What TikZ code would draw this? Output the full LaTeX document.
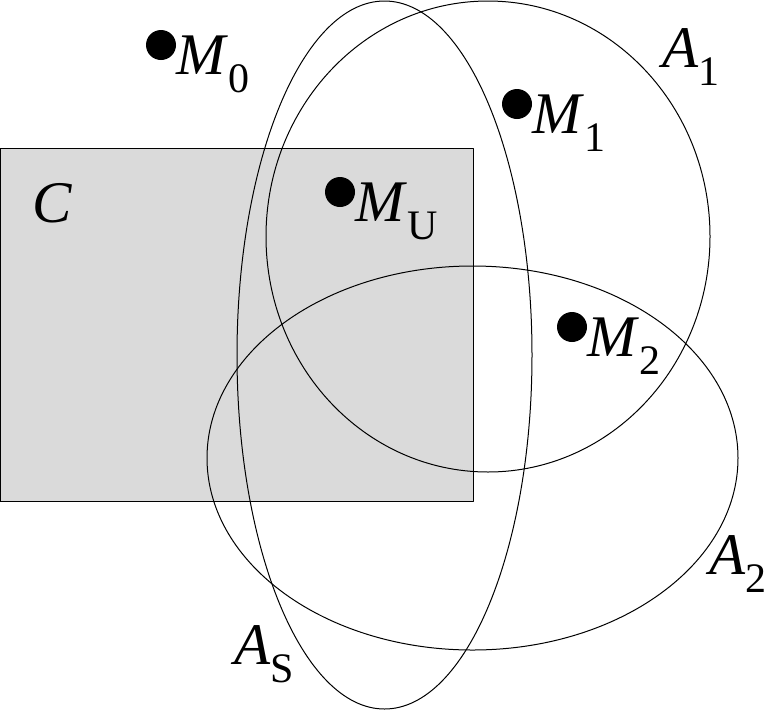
\documentclass[tikz,border=0pt]{standalone}
\usepackage{fontspec}
\setmainfont{Liberation Serif}
\definecolor{xamnhat}{RGB}{218,218,218}
\newcommand{\chiso}[2]{\textit{#1}\raisebox{-18pt}{\fontsize{42}{42}\selectfont #2}}
\tikzset{
	diem/.style={circle, fill=black, inner sep=0pt, minimum size=30pt},
	nhan/.style={anchor=base west, inner sep=0pt, font=\fontsize{59}{60}\selectfont},
	bien/.style={line width=1pt},
}
\begin{document}
	\begin{tikzpicture}[x=1pt, y=-1pt, line join=round, line cap=round]
		\useasboundingbox (0, 0) rectangle (771, 713);
		% Tập C
		\draw[bien, fill=xamnhat] (0, 148) rectangle (473, 501);
		\node[nhan] (C) at (32, 222) {\textit{C}};
		% Các miền A
		\draw[bien] (488, 236.5) ellipse [x radius=222pt, y radius=235.5pt];
		\draw[bien] (472.5, 458) ellipse [x radius=265.5pt, y radius=192pt];
		\draw[bien] (384.5, 355) ellipse [x radius=147.5pt, y radius=354pt];
		\node[nhan] (A1) at (662, 67) {\chiso{A}{1}};
		\node[nhan] (A2) at (709, 574) {\chiso{A}{2}};
		\node[nhan] (AS) at (234, 664) {\chiso{A}{S}};
		% Các điểm M
		\node[diem] (M0) at (161, 45) {};
		\node[diem] (MU) at (340, 192) {};
		\node[diem] (M1) at (517, 104) {};
		\node[diem] (M2) at (572, 327) {};
		\node[nhan] (M0l) at ([yshift=-29pt]M0.east) {\chiso{M}{0}};
		\node[nhan] (MUl) at ([yshift=-29pt]MU.east) {\chiso{M}{U}};
		\node[nhan] (M1l) at ([yshift=-29pt]M1.east) {\chiso{M}{1}};
		\node[nhan] (M2l) at ([yshift=-29pt]M2.east) {\chiso{M}{2}};
	\end{tikzpicture}
\end{document}
